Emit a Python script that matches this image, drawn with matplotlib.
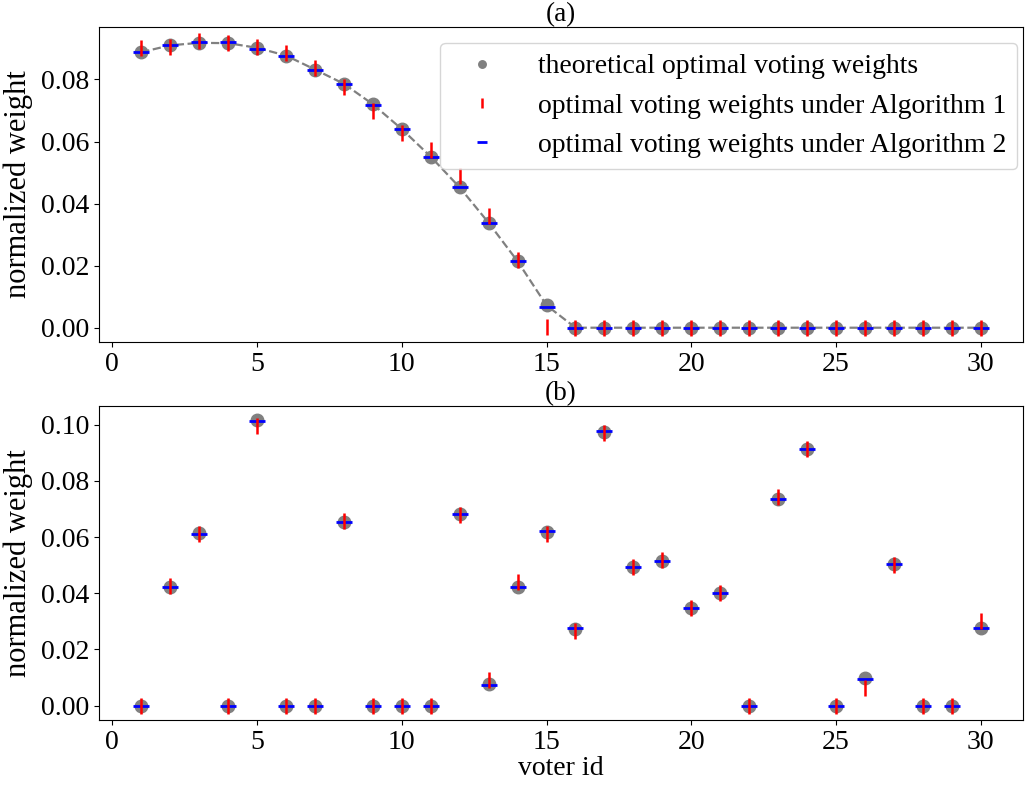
import matplotlib
matplotlib.use("Agg")
import matplotlib.pyplot as plt
import numpy as np

plt.rcParams['font.family'] = ['Liberation Serif', 'DejaVu Serif']
plt.rcParams['font.size'] = 20
plt.rcParams['mathtext.fontset'] = 'stix'

voter_id = list(range(1, 31))
xticks = [0, 5, 10, 15, 20, 25, 30]
yticks_a = [0.00, 0.02, 0.04, 0.06, 0.08]
yticks_b = [0.00, 0.02, 0.04, 0.06, 0.08, 0.10]

# Panel (a)
theory_a = [0.0888, 0.0910, 0.0918, 0.0917, 0.0902, 0.0877, 0.0832, 0.0786, 0.0720, 0.0640,
            0.0551, 0.0452, 0.0338, 0.0214, 0.0072, 0, 0, 0, 0, 0,
            0, 0, 0, 0, 0, 0, 0, 0, 0, 0]
alg1_a = [0.0900, 0.0905, 0.0923, 0.0918, 0.0903, 0.0884, 0.0837, 0.0777, 0.0697, 0.0628,
          0.0573, 0.0490, 0.0359, 0.0217, 0.0003, 0, 0, 0, 0, 0,
          0, 0, 0, 0, 0, 0, 0, 0, 0, 0]
alg2_a = [0.0887, 0.0910, 0.0920, 0.0921, 0.0899, 0.0876, 0.0831, 0.0786, 0.0719, 0.0640,
          0.0550, 0.0452, 0.0338, 0.0214, 0.0067, 0, 0, 0, 0, 0,
          0, 0, 0, 0, 0, 0, 0, 0, 0, 0]

# Panel (b)
theory_b = [0, 0.0421, 0.0613, 0, 0.1017, 0, 0, 0.0654, 0, 0,
            0, 0.0684, 0.0077, 0.0421, 0.0618, 0.0274, 0.0976, 0.0495, 0.0516, 0.0346,
            0.0400, 0, 0.0737, 0.0914, 0, 0.0097, 0.0505, 0, 0, 0.0275]
alg1_b = [0, 0.0426, 0.0612, 0, 0.0996, 0, 0, 0.0659, 0, 0,
          0, 0.0680, 0.0092, 0.0440, 0.0610, 0.0265, 0.0972, 0.0494, 0.0517, 0.0347,
          0.0402, 0, 0.0742, 0.0913, 0, 0.0063, 0.0500, 0, 0, 0.0301]
alg2_b = [0, 0.0421, 0.0611, 0, 0.1012, 0, 0, 0.0653, 0, 0,
          0, 0.0684, 0.0074, 0.0421, 0.0621, 0.0275, 0.0979, 0.0495, 0.0516, 0.0347,
          0.0400, 0, 0.0736, 0.0915, 0, 0.0096, 0.0505, 0, 0, 0.0275]

labels = ['theoretical optimal voting weights',
          'optimal voting weights under Algorithm 1',
          'optimal voting weights under Algorithm 2']

fig = plt.figure(figsize=(10.26, 7.91), dpi=100)
ax1 = fig.add_axes([0.0968, 0.5676, 0.900, 0.3983])
ax2 = fig.add_axes([0.0968, 0.0898, 0.900, 0.3973])


def draw(ax, th, a1, a2, line, yticks):
    if line:
        ax.plot(voter_id, th, linestyle='--', color='gray', linewidth=1.6, zorder=1)
    h0, = ax.plot(voter_id, th, 'o', color='gray', markersize=9, linestyle='none', zorder=2)
    h2, = ax.plot(voter_id, a2, '_', color='blue', markersize=11, markeredgewidth=2, linestyle='none', zorder=3)
    h1, = ax.plot(voter_id, a1, '|', color='red', markersize=11, markeredgewidth=1.8, linestyle='none', zorder=4)
    ax.set_ylabel('normalized weight', fontsize=22, labelpad=6)
    ax.set_xticks(xticks)
    ax.set_yticks(yticks)
    ax.set_yticklabels([f'{v:.2f}' for v in yticks])
    return h0, h1, h2


h0, h1, h2 = draw(ax1, theory_a, alg1_a, alg2_a, True, yticks_a)
draw(ax2, theory_b, alg1_b, alg2_b, False, yticks_b)
ax1.set_title('(a)', pad=0, fontsize=19.5)
ax2.set_title('(b)', pad=0, fontsize=19.5)
ax2.set_xlabel('voter id', labelpad=1)
ax1.legend([h0, h1, h2], labels, loc='upper right', markerscale=0.6, fontsize=20,
           bbox_to_anchor=(0.994, 0.95), borderaxespad=0, handletextpad=0.9,
           handlelength=2.2)

fig.savefig('out.png', dpi=100)
